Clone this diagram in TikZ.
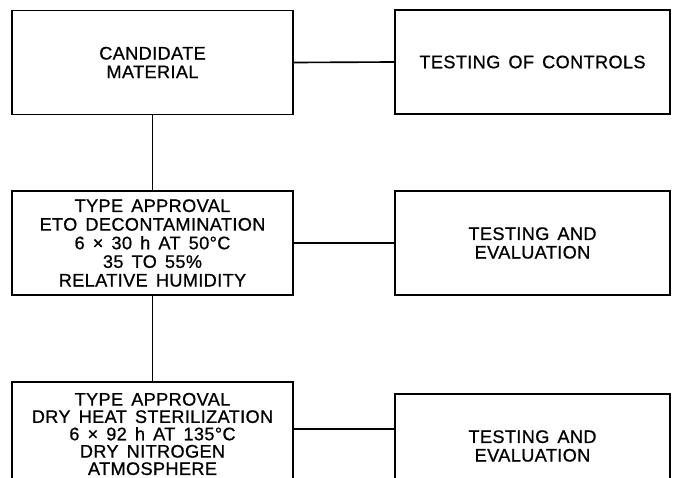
\documentclass[tikz,border=0pt]{standalone}
\usepackage{fontspec}
\setmainfont{Liberation Sans}[LetterSpace=2,WordSpace=1.5,FakeBold=0.8]
\usetikzlibrary{calc,positioning}

\begin{document}
\begin{tikzpicture}[x=0.03cm,y=-0.03cm,
		box/.style={draw,line width=1.4pt,align=center,minimum width=8.43cm,minimum height=3.12cm,inner sep=0pt,font=\fontsize{15.5}{15.9}\selectfont},
		rbox/.style={box,minimum width=8.25cm},
		link/.style={line width=1.4pt}]
		\clip (0,0) rectangle (676,477);
		
		\node[box] (cand) at (152.5,62.5) {CANDIDATE\\MATERIAL};
		\node[rbox] (ctrl) at (532.5,62) {TESTING OF CONTROLS};
		\node[box] (eto) at (152.5,243) {TYPE APPROVAL\\ETO DECONTAMINATION\\6 × 30 h AT 50°C\\35 TO 55\%\\RELATIVE HUMIDITY};
		\node[rbox] (evalA) at (532.5,243) {TESTING AND\\EVALUATION};
		\node[box,font=\fontsize{15.5}{14.8}\selectfont] (dry) at (152.5,434) {TYPE APPROVAL\\DRY HEAT STERILIZATION\\6 × 92 h AT 135°C\\DRY NITROGEN\\ATMOSPHERE};
		\node[rbox] (evalB) at (532.5,446) {TESTING AND\\EVALUATION};
		
		\draw[link] (cand.east) -- (ctrl.west);
		\draw[link] (eto.east) -- (evalA.west);
		\draw[link] ([yshift=0.15cm]dry.east) -- ([yshift=0.15cm]dry.east -| evalB.west);
		
		\draw[link] (cand.south) -- (eto.north);
		\draw[link] (eto.south) -- (dry.north);
\end{tikzpicture}
\end{document}
